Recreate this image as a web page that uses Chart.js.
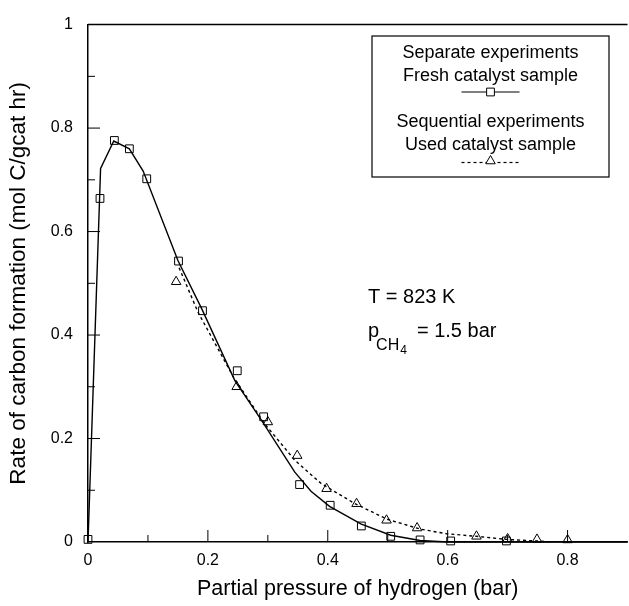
<!DOCTYPE html>
<html>
<head>
<meta charset="utf-8">
<script src="https://cdn.jsdelivr.net/npm/chart.js@4.4.1/dist/chart.umd.min.js"></script>
<style>
  html, body { margin: 0; padding: 0; background: #fff; overflow: hidden; }
</style>
</head>
<body>
<canvas id="c" width="634" height="606"></canvas>
<script>
// measured points: fresh catalyst (separate experiments)
const freshX = [0.0, 0.020, 0.044, 0.069, 0.098, 0.151, 0.191, 0.249, 0.293, 0.353, 0.404, 0.456, 0.505, 0.554, 0.605, 0.698];
const freshY = [0.005, 0.664, 0.776, 0.760, 0.702, 0.543, 0.447, 0.331, 0.242, 0.111, 0.071, 0.031, 0.011, 0.004, 0.002, 0.002];

// measured points: used catalyst (sequential experiments)
const usedX = [0.147, 0.248, 0.300, 0.349, 0.398, 0.448, 0.498, 0.549, 0.648, 0.700, 0.749, 0.800];
const usedY = [0.503, 0.300, 0.232, 0.167, 0.103, 0.074, 0.042, 0.027, 0.011, 0.006, 0.005, 0.004];

// fitted curves
const freshFitX = [0, 0.021, 0.043, 0.069, 0.092, 0.150, 0.190, 0.245, 0.289, 0.345, 0.372, 0.403, 0.455, 0.505, 0.554, 0.600, 0.900];
const freshFitY = [0, 0.722, 0.775, 0.760, 0.717, 0.544, 0.450, 0.312, 0.236, 0.135, 0.098, 0.069, 0.035, 0.013, 0.003, 0, 0];
const usedFitX = [0.152, 0.184, 0.243, 0.295, 0.345, 0.389, 0.444, 0.499, 0.554, 0.598, 0.648, 0.698, 0.748, 0.775];
const usedFitY = [0.530, 0.443, 0.318, 0.228, 0.158, 0.113, 0.075, 0.044, 0.025, 0.016, 0.011, 0.005, 0.002, 0];

// axis ticks
const xLabelTicks = [0, 0.2, 0.4, 0.6, 0.8];
const xTickMarks = [0.1, 0.2, 0.3, 0.4, 0.5, 0.6, 0.7, 0.8];
const yLabelTicks = [0, 0.2, 0.4, 0.6, 0.8, 1];
const yTickMarks = [0.1, 0.2, 0.3, 0.4, 0.5, 0.6, 0.7, 0.8, 0.9];

const FONT = '"Liberation Sans", Arial, Helvetica, sans-serif';
Chart.defaults.font.family = FONT;
Chart.defaults.color = '#000';

const pts = (xs, ys) => xs.map((x, i) => ({ x: x, y: ys[i] }));
const fmt = (v) => String(Math.round(v * 10) / 10);

function line(ctx, x1, y1, x2, y2) {
  ctx.beginPath(); ctx.moveTo(x1, y1); ctx.lineTo(x2, y2); ctx.stroke();
}

const decor = {
  id: 'decor',
  afterDraw(chart) {
    const { ctx, chartArea: a, scales: { x, y } } = chart;
    ctx.save();
    ctx.strokeStyle = '#000';
    ctx.fillStyle = '#000';

    // top frame line
    ctx.lineWidth = 1.5;
    line(ctx, a.left, a.top, a.right, a.top);

    // inward ticks
    ctx.lineWidth = 1;
    xTickMarks.forEach((v, i) => {
      const px = x.getPixelForValue(v);
      const len = i % 2 ? 12 : 7;
      line(ctx, px, a.bottom, px, a.bottom - len);
    });
    yTickMarks.forEach((v, i) => {
      const py = y.getPixelForValue(v);
      const len = i % 2 ? 12 : 7;
      line(ctx, a.left, py, a.left + len, py);
    });

    // legend box
    const bx = 372, by = 36, bw = 237, bh = 141, cx = bx + bw / 2;
    ctx.lineWidth = 1.2;
    ctx.strokeRect(bx, by, bw, bh);
    ctx.font = '18px ' + FONT;
    ctx.textAlign = 'center';
    ctx.textBaseline = 'alphabetic';
    ctx.fillText('Separate experiments', cx, 58);
    ctx.fillText('Fresh catalyst sample', cx, 81);
    ctx.fillText('Sequential experiments', cx, 127);
    ctx.fillText('Used catalyst sample', cx, 150);

    ctx.lineWidth = 1.2;
    line(ctx, cx - 29, 92, cx + 29, 92);
    ctx.setLineDash([3, 3]);
    line(ctx, cx - 29, 162.5, cx + 29, 162.5);
    ctx.setLineDash([]);
    ctx.lineWidth = 1;
    ctx.fillStyle = '#fff';
    Chart.helpers.drawPoint(ctx, { pointStyle: 'rect', radius: 5.5, rotation: 0, borderWidth: 1 }, cx, 92);
    Chart.helpers.drawPoint(ctx, { pointStyle: 'triangle', radius: 5.5, rotation: 0, borderWidth: 1 }, cx, 161);

    // conditions text
    ctx.fillStyle = '#000';
    ctx.textAlign = 'left';
    ctx.font = '20px ' + FONT;
    ctx.fillText('T = 823 K', 368, 303);
    ctx.fillText('p', 368, 337);
    let tx = 368 + ctx.measureText('p').width - 3;
    ctx.font = '16px ' + FONT;
    ctx.fillText('CH', tx, 350);
    tx += ctx.measureText('CH').width + 1;
    ctx.font = '12px ' + FONT;
    ctx.fillText('4', tx, 354);
    tx += ctx.measureText('4').width + 10;
    ctx.font = '20px ' + FONT;
    ctx.fillText('= 1.5 bar', tx, 337);
    ctx.restore();
  }
};

new Chart(document.getElementById('c'), {
  type: 'scatter',
  data: {
    datasets: [
      { data: pts(freshFitX, freshFitY), showLine: true, pointRadius: 0, borderColor: '#000', borderWidth: 1.4, tension: 0 },
      { data: pts(usedFitX, usedFitY), showLine: true, pointRadius: 0, borderColor: '#000', borderWidth: 1.4, borderDash: [3, 3], tension: 0 },
      { data: pts(freshX, freshY), pointStyle: 'rect', pointRadius: 5.5, borderColor: '#000', borderWidth: 1, backgroundColor: 'rgba(255,255,255,0)' },
      { data: pts(usedX, usedY), pointStyle: 'triangle', pointRadius: 5.5, borderColor: '#000', borderWidth: 1, backgroundColor: 'rgba(255,255,255,0)' }
    ]
  },
  options: {
    responsive: false,
    animation: false,
    clip: false,
    layout: { padding: { top: 12, right: 2, left: 0, bottom: 0 } },
    plugins: { legend: { display: false }, tooltip: { enabled: false } },
    scales: {
      x: {
        type: 'linear', min: 0, max: 0.9,
        afterFit: (s) => { s.height = 64; },
        afterBuildTicks: (s) => { s.ticks = xLabelTicks.map(v => ({ value: v })); },
        ticks: { padding: 9, font: { size: 16 }, maxRotation: 0, autoSkip: false, callback: fmt },
        grid: { display: false, drawTicks: false },
        border: { display: true, color: '#000', width: 1.6 },
        title: { display: true, text: 'Partial pressure of hydrogen (bar)', font: { size: 21.5 }, padding: { top: 0, bottom: 4 } }
      },
      y: {
        type: 'linear', min: 0, max: 1,
        afterFit: (s) => { s.width = 88; },
        afterBuildTicks: (s) => { s.ticks = yLabelTicks.map(v => ({ value: v })); },
        ticks: { padding: 15, font: { size: 16 }, autoSkip: false, callback: fmt },
        grid: { display: false, drawTicks: false },
        border: { display: true, color: '#000', width: 1.5 },
        title: { display: true, text: 'Rate of carbon formation (mol C/gcat hr)', font: { size: 22.5 }, padding: { top: 5, bottom: 0 } }
      }
    }
  },
  plugins: [decor]
});
</script>
</body>
</html>
